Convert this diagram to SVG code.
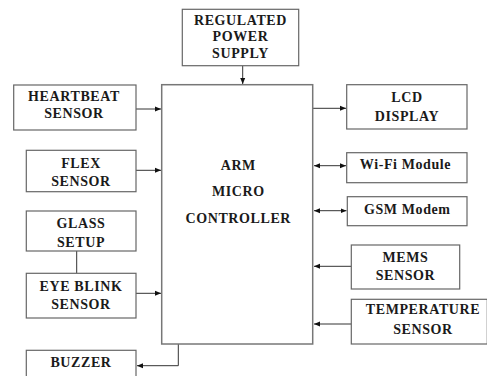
<svg xmlns="http://www.w3.org/2000/svg" width="487" height="376" viewBox="0 0 487 376">
<style>
.box{fill:#fff;stroke:#666;stroke-width:1.2}
.t{font-family:"Liberation Serif","Times New Roman",serif;font-weight:bold;font-size:14px;letter-spacing:0.6px;fill:#1a1a1a;text-anchor:middle}
.c{stroke:#333;stroke-width:1;fill:none}
</style>
<defs>
<marker id="ah" markerUnits="userSpaceOnUse" markerWidth="7" markerHeight="6" refX="6" refY="3" orient="auto-start-reverse"><path d="M0,0.5 L6,3 L0,5.5 Z" fill="#111"/></marker>
</defs>
<rect width="487" height="376" fill="#fff"/>
<g id="connectors">
<path class="c" d="M242.7,66 V84" marker-end="url(#ah)"/>
<path class="c" d="M136,109 H161" marker-end="url(#ah)"/>
<path class="c" d="M134,170.3 H161" marker-end="url(#ah)"/>
<path class="c" d="M76.7,251 V273.3"/>
<path class="c" d="M136,293.3 H161" marker-end="url(#ah)"/>
<path class="c" d="M178.3,344 V365.7 H137" marker-end="url(#ah)"/>
<path class="c" d="M313,108.3 H346" marker-end="url(#ah)"/>
<path class="c" d="M314,165.7 H346" marker-start="url(#ah)" marker-end="url(#ah)"/>
<path class="c" d="M314,210.7 H346.5" marker-start="url(#ah)" marker-end="url(#ah)"/>
<path class="c" d="M351.3,266.3 H314" marker-end="url(#ah)"/>
<path class="c" d="M351.3,324 H314" marker-end="url(#ah)"/>
</g>
<g id="power"><rect class="box" x="182.3" y="9.3" width="116.4" height="56.4"/><text class="t" x="240.5" y="24.5">REGULATED</text><text class="t" x="240.5" y="41.2">POWER</text><text class="t" x="240.5" y="57.5">SUPPLY</text></g>
<g id="controller"><rect class="box" x="161.7" y="84.7" width="151" height="259.3" style="stroke:#777;stroke-width:1.5"/><text class="t" x="238.3" y="170">ARM</text><text class="t" x="238.3" y="195.7">MICRO</text><text class="t" x="238.3" y="222.7">CONTROLLER</text></g>
<g id="heartbeat"><rect class="box" x="13.7" y="85" width="122.3" height="45"/><text class="t" x="74" y="101">HEARTBEAT</text><text class="t" x="74" y="117.5">SENSOR</text></g>
<g id="flex"><rect class="box" x="26.3" y="150.3" width="109.7" height="41.4"/><text class="t" x="81" y="167.7">FLEX</text><text class="t" x="81" y="185.7">SENSOR</text></g>
<g id="glass"><rect class="box" x="26.3" y="211" width="109.7" height="40"/><text class="t" x="81" y="228.3">GLASS</text><text class="t" x="81" y="246.7">SETUP</text></g>
<g id="eyeblink"><rect class="box" x="26.3" y="273.3" width="109.7" height="44.7"/><text class="t" x="81" y="290.7">EYE BLINK</text><text class="t" x="81" y="309">SENSOR</text></g>
<g id="buzzer"><rect class="box" x="26.3" y="350.3" width="109.7" height="40"/><text class="t" x="81" y="367.3">BUZZER</text></g>
<g id="lcd"><rect class="box" x="346.7" y="84.7" width="120.3" height="44.3"/><text class="t" x="407" y="101.7">LCD</text><text class="t" x="407" y="120.7">DISPLAY</text></g>
<g id="wifi"><rect class="box" x="346.7" y="152.7" width="120.3" height="30"/><text class="t" x="405.5" y="169.3">Wi-Fi Module</text></g>
<g id="gsm"><rect class="box" x="347.3" y="196.7" width="119.7" height="29"/><text class="t" x="407.3" y="213.7">GSM Modem</text></g>
<g id="mems"><rect class="box" x="351.3" y="245" width="108.4" height="44"/><text class="t" x="405.5" y="262.3">MEMS</text><text class="t" x="405.5" y="280">SENSOR</text></g>
<g id="temperature"><rect class="box" x="351.3" y="299.3" width="136" height="44.7"/><text class="t" x="423" y="314">TEMPERATURE</text><text class="t" x="423" y="334">SENSOR</text></g>
</svg>
